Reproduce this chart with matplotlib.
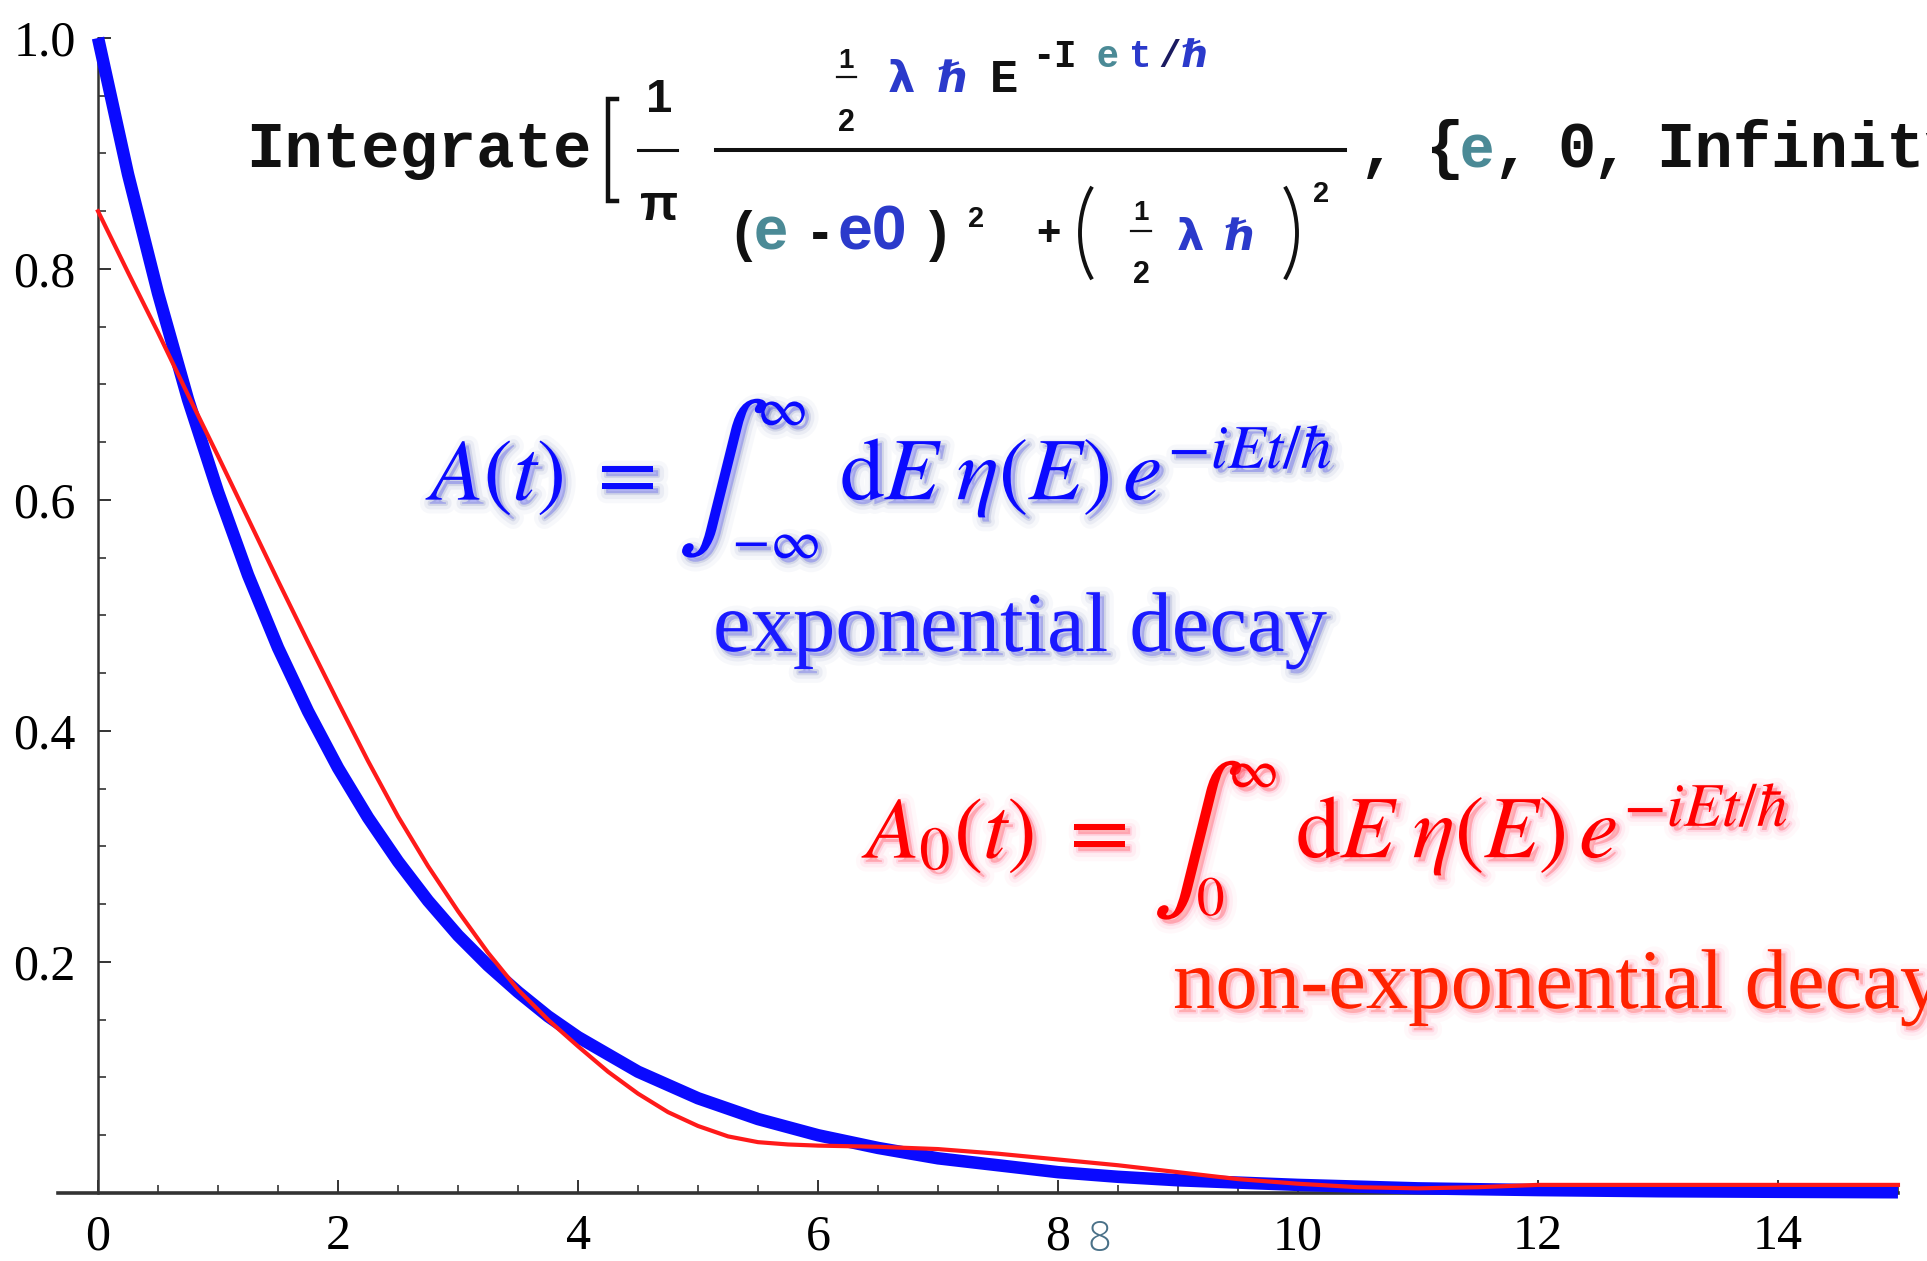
import numpy as np
import matplotlib
matplotlib.use('Agg')
import matplotlib.pyplot as plt
import matplotlib.patheffects as pe
from matplotlib.patches import Arc

plt.rcParams['font.family'] = ['Liberation Serif', 'DejaVu Serif']
plt.rcParams['mathtext.fontset'] = 'stix'

# values
t_blue = [0, 0.25, 0.5, 0.75, 1.0, 1.25, 1.5, 1.75, 2.0, 2.25, 2.5, 2.75, 3.0, 3.25, 3.5, 3.75,
          4.0, 4.5, 5.0, 5.5, 6.0, 6.5, 7.0, 7.5, 8.0, 8.5, 9.0, 9.5, 10.0, 11.0, 12.0, 13.0, 14.0, 15.0]
a_blue = [1.0, 0.882, 0.779, 0.687, 0.607, 0.535, 0.472, 0.417, 0.368, 0.325, 0.287, 0.253, 0.223, 0.197, 0.174, 0.153,
          0.135, 0.105, 0.082, 0.064, 0.050, 0.039, 0.030, 0.024, 0.018, 0.014, 0.011, 0.009, 0.007, 0.004, 0.0025, 0.0015, 0.001, 0.0006]

t_red = [0, 0.25, 0.5, 0.75, 1.0, 1.25, 1.5, 1.75, 2.0, 2.25, 2.5, 2.75, 3.0, 3.25, 3.5, 3.75,
         4.0, 4.25, 4.5, 4.75, 5.0, 5.25, 5.5, 5.75, 6.0, 6.5, 7.0, 7.5, 8.0, 8.5, 9.0, 9.5, 10.0,
         10.5, 11.0, 11.5, 12.0, 13.0, 14.0, 15.0]
a_red = [0.850, 0.797, 0.745, 0.691, 0.638, 0.584, 0.530, 0.477, 0.425, 0.374, 0.326, 0.283, 0.244, 0.208, 0.176, 0.150,
         0.127, 0.105, 0.086, 0.070, 0.058, 0.049, 0.044, 0.042, 0.041, 0.040, 0.038, 0.034, 0.029, 0.024, 0.018, 0.012, 0.008,
         0.005, 0.004, 0.005, 0.007, 0.007, 0.007, 0.007]

x_ticks = [0, 2, 4, 6, 8, 10, 12, 14]
x_labels = ['0', '2', '4', '6', '8', '10', '12', '14']
y_ticks = [0.2, 0.4, 0.6, 0.8, 1.0]
y_labels = ['0.2', '0.4', '0.6', '0.8', '1.0']

BLUE = '#0a0aff'
RED = '#ff1a1a'
INK = '#111111'
TEAL = '#4b8a96'
MBLUE = '#2b3acb'

fig = plt.figure(figsize=(19.27, 12.61), dpi=100)
ax = fig.add_axes([0, 0, 1, 1])
ax.plot(t_blue, a_blue, color=BLUE, lw=9, solid_capstyle='butt', zorder=3)
ax.plot(t_red, a_red, color=RED, lw=3, zorder=4)

ax.set_xlim(-0.817, 15.242)
ax.set_ylim(-0.0589, 1.0329)
for s in ['top', 'right']:
    ax.spines[s].set_visible(False)
ax.spines['left'].set_position(('data', 0))
ax.spines['bottom'].set_position(('data', 0))
ax.spines['left'].set_bounds(0, 1.0)
ax.spines['bottom'].set_bounds(-0.33, 15)
ax.spines['left'].set_linewidth(1.8)
ax.spines['bottom'].set_linewidth(2.6)
ax.spines['left'].set_color('#333333')
ax.spines['bottom'].set_color('#333333')

ax.set_xticks(x_ticks)
ax.set_xticklabels(x_labels)
ax.set_xticks([v for v in np.arange(0.5, 15.01, 0.5) if v not in x_ticks], minor=True)
ax.set_yticks(y_ticks)
ax.set_yticklabels(y_labels)
ax.set_yticks([v for v in np.arange(0.05, 1.0, 0.05) if round(v, 2) not in y_ticks], minor=True)
ax.tick_params(axis='x', which='major', direction='in', length=9.5, width=1.4, pad=15, labelsize=36, color='#333333')
ax.tick_params(axis='x', which='minor', direction='in', length=5.5, width=1.2, color='#333333')
ax.tick_params(axis='y', which='major', direction='in', length=9.5, width=1.4, pad=16, labelsize=36, color='#333333')
ax.tick_params(axis='y', which='minor', direction='in', length=5.5, width=1.2, color='#333333')

# overlay in pixel coordinates for the annotations
ov = fig.add_axes([0, 0, 1, 1], zorder=5)
ov.set_xlim(0, 1927)
ov.set_ylim(1261, 0)
ov.axis('off')
ov.patch.set_alpha(0)


def put(x, y, s, size, color=INK, family='Liberation Mono', weight='bold', ha='left', va='baseline', fx=None):
    ov.text(x, y, s, fontsize=size, color=color, family=family, fontweight=weight,
            ha=ha, va=va, path_effects=fx)


def shadow(col):
    return [pe.Stroke(linewidth=14, foreground=col, alpha=0.04, offset=(3, -3)),
            pe.Stroke(linewidth=8, foreground=col, alpha=0.07, offset=(3, -3)),
            pe.Stroke(linewidth=3, foreground=col, alpha=0.15, offset=(3, -3)),
            pe.Normal()]


SANS = ['Liberation Sans', 'DejaVu Sans']
GREEK = ['DejaVu Sans']

# Mathematica input line
put(246, 167, 'Integrate', 46)
ov.plot([617, 608, 608, 617], [99, 99, 201, 201], color=INK, lw=3.2, solid_joinstyle='miter')
put(659, 112, '1', 34, family=SANS, ha='center')
ov.plot([638, 677], [150, 150], color=INK, lw=2.2)
put(659, 220, 'π', 36, family=SANS, ha='center')
ov.plot([716, 1345], [150, 150], color=INK, lw=2.9)

# numerator
put(846, 68, '1', 20, family=SANS, ha='center')
ov.plot([837, 856], [77, 77], color=INK, lw=1.6)
put(846, 131, '2', 22, family=SANS, ha='center')
put(888, 92, 'λ', 31, color=MBLUE, family=GREEK)
put(938, 92, 'ℏ', 31, color=MBLUE, family=GREEK)
put(990, 92, 'E', 34)
put(1032, 67, '-', 27)
put(1053, 67, 'I', 27)
put(1096, 67, 'e', 28, color=TEAL, family=SANS)
put(1129, 67, 't', 27, color=MBLUE)
put(1158, 67, '/', 27, color='#1a1a60')
put(1182, 67, 'ℏ', 27, color=MBLUE, family=GREEK)

# denominator
put(733, 250, '(', 40, family=SANS)
put(754, 250, 'e', 44, color=TEAL, family=SANS)
put(811, 250, '-', 40, family=SANS)
put(838, 250, 'e0', 45, color=MBLUE, family=SANS)
put(929, 250, ')', 40, family=SANS)
put(968, 227, '2', 21, family=SANS)
put(1036, 245, '+', 30, family=SANS)
ov.add_patch(Arc((1140, 233), 120, 154, theta1=136, theta2=224, color=INK, lw=2.8))
put(1141, 220, '1', 20, family=SANS, ha='center')
ov.plot([1131, 1151], [231, 231], color=INK, lw=1.6)
put(1141, 283, '2', 22, family=SANS, ha='center')
put(1177, 250, 'λ', 31, color=MBLUE, family=GREEK)
put(1225, 250, 'ℏ', 31, color=MBLUE, family=GREEK)
ov.add_patch(Arc((1237, 233), 120, 154, theta1=-44, theta2=44, color=INK, lw=2.8))
put(1313, 202, '2', 21, family=SANS)

put(1359, 167, ',', 46)
put(1426, 167, '{', 46)
put(1460, 167, 'e', 44, color=TEAL, family=SANS)
put(1493, 167, ',', 46)
put(1557, 167, '0', 46)
put(1592, 167, ',', 46)
put(1656, 167, 'Infinity', 46)

# blue annotation
fb = shadow('#4a5aa0')
put(430, 500, r'$A(t)$', 63, color=BLUE, family='serif', weight='normal', fx=fb)
put(585, 500, r'$=$', 63, color=BLUE, family='serif', weight='normal', fx=fb)
put(723, 479, r'$\int$', 100, color=BLUE, family='serif', weight='normal', ha='center', va='center', fx=fb)
put(782, 410, r'$\infty$', 40, color=BLUE, family='serif', weight='normal', ha='center', va='center', fx=fb)
put(776, 543, r'$-\infty$', 40, color=BLUE, family='serif', weight='normal', ha='center', va='center', fx=fb)
put(840, 500, r'$\mathrm{d}E\;\eta(E)\,e^{-iEt/\hbar}$', 64, color=BLUE, family='serif', weight='normal', fx=fb)
put(713, 651, 'exponential decay', 61, color='#1a1aff', family='Liberation Serif', weight='normal', fx=fb)

# red annotation
fr = shadow('#ff5a8a')
put(866, 858, r'$A_0(t)$', 63, color='#ff0000', family='serif', weight='normal', fx=fr)
put(1057, 858, r'$=$', 63, color='#ff0000', family='serif', weight='normal', fx=fr)
put(1198, 841, r'$\int$', 100, color='#ff0000', family='serif', weight='normal', ha='center', va='center', fx=fr)
put(1253, 772, r'$\infty$', 40, color='#ff0000', family='serif', weight='normal', ha='center', va='center', fx=fr)
put(1211, 900, r'$0$', 40, color='#ff0000', family='serif', weight='normal', ha='center', va='center', fx=fr)
put(1296, 858, r'$\mathrm{d}E\;\eta(E)\,e^{-iEt/\hbar}$', 64, color='#ff0000', family='serif', weight='normal', fx=fr)
put(1173, 1008, 'non-exponential decay', 61, color='#ff2200', family='Liberation Serif', weight='normal', fx=fr)

# slide number
put(1087, 1251, '8', 30, color='#4a7188', family=['Open Sans', 'DejaVu Sans'], weight='light')

fig.savefig('out.png', dpi=100, facecolor='white')
